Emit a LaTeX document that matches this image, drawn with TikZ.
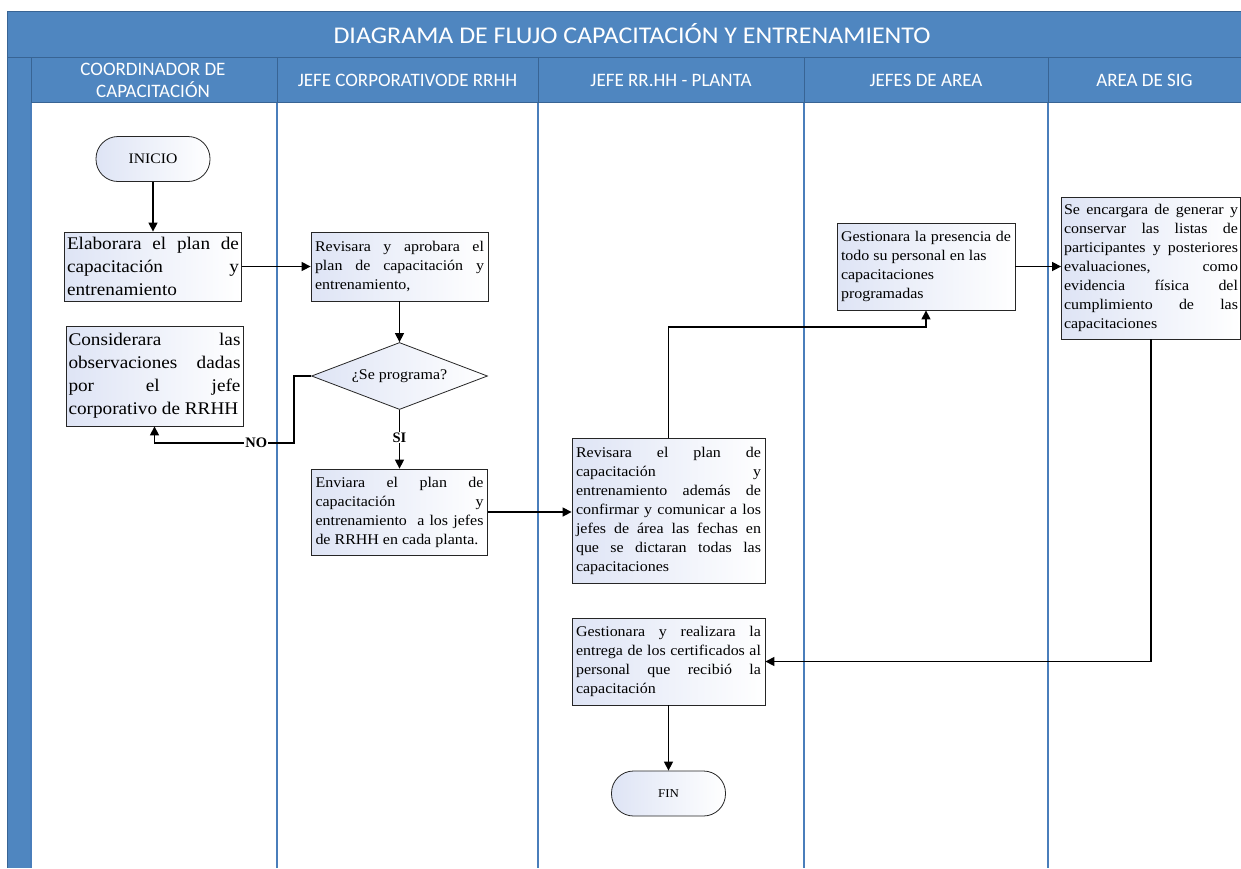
\documentclass[tikz,border=0pt]{standalone}
\usepackage{fontspec}
\setmainfont{Liberation Serif}
\newfontfamily\boxfont[FakeStretch=1.08]{Liberation Serif}
\newfontfamily\hdrfont{Carlito}
\newfontfamily\titlefont[FakeStretch=1.08]{Carlito}
\usetikzlibrary{shapes.geometric,arrows.meta}
\definecolor{band}{RGB}{79,134,192}
\definecolor{bandline}{RGB}{56,100,148}
\definecolor{laneline}{RGB}{74,126,187}
\definecolor{boxshade}{RGB}{222,228,245}
\begin{document}
\begin{tikzpicture}[x=1pt,y=-1pt,
  shadefill/.style={left color=boxshade, right color=white},
  box/.style={draw=black!85, line width=0.8pt, shadefill,
    align=justify, inner sep=4pt, font=\boxfont\fontsize{14.8}{19}\selectfont,
    execute at begin node={\tolerance=10000\hyphenpenalty=10000\exhyphenpenalty=10000}},
  bigbox/.style={box, inner sep=2.5pt, font=\boxfont\fontsize{17.8}{23}\selectfont},
  term/.style={draw=black!85, line width=0.8pt, rounded corners=22pt, shadefill,
    minimum width=114pt, minimum height=45pt, inner sep=0pt},
  decision/.style={diamond, aspect=2.6, draw=black!85, line width=0.8pt, shadefill,
    minimum width=176pt, minimum height=67pt, inner sep=0pt,
    font=\boxfont\fontsize{14.8}{16}\selectfont},
  arr/.style={draw=black, line width=1.4pt, -{Triangle[length=9pt,width=9pt]}},
  lbl/.style={fill=white, inner sep=1pt, font=\bfseries\fontsize{14.5}{16}\selectfont},
  hdr/.style={text=white, align=center, font=\hdrfont\fontsize{19}{22}\selectfont},
  lane/.style={draw=laneline, line width=1.3pt},
  hline/.style={draw=bandline, line width=1pt}
]
\useasboundingbox (0,0) rectangle (1241,868);
\fill[white] (0,0) rectangle (1241,868);
% frame
\fill[band] (7,11) rectangle (1241,102);
\fill[band] (7,57) rectangle (31,868);
\draw[hline] (7,11) -- (1241,11);
\draw[hline] (7,11) -- (7,868);
\draw[hline] (7,57) -- (1241,57);
\draw[hline] (31,102) -- (1241,102);
\foreach \x in {31,277,538,804,1048} {
  \draw[hline] (\x,57) -- (\x,102);
  \draw[lane] (\x,103) -- (\x,868);
}
\node[text=white, font=\titlefont\fontsize{24}{26}\selectfont] (title) at (632,34) {DIAGRAMA DE FLUJO CAPACITACIÓN Y ENTRENAMIENTO};
\node[hdr] (h1) at (153,80) {COORDINADOR DE\\CAPACITACIÓN};
\node[hdr] (h2) at (407.5,80) {JEFE CORPORATIVODE RRHH};
\node[hdr] (h3) at (671,80) {JEFE RR.HH - PLANTA};
\node[hdr] (h4) at (926,80) {JEFES DE AREA};
\node[hdr] (h5) at (1144.5,80) {AREA DE SIG};

% nodes
\node[term, font=\boxfont\fontsize{14.5}{16}\selectfont] (inicio) at (153,159) {INICIO};
\node[bigbox, text width=172pt, minimum height=69pt] (elab) at (153,266.5)
  {Elaborara el plan de\linebreak capacitación y\linebreak entrenamiento};
\node[box, text width=169pt, minimum height=69pt] (rev1) at (399.5,266.5)
  {Revisara y aprobara el\linebreak plan de capacitación y\linebreak entrenamiento,};
\node[decision] (dec) at (399.5,376) {¿Se programa?};
\node[bigbox, text width=172pt, minimum height=100pt] (cons) at (154.5,376)
  {Considerara las\linebreak observaciones dadas\linebreak por el jefe\linebreak corporativo de RRHH};
\node[box, text width=168pt, minimum height=86pt] (env) at (399.5,512)
  {Enviara el plan de\linebreak capacitación y\linebreak entrenamiento~ a los jefes\linebreak de RRHH en cada planta.};
\node[box, text width=185pt, minimum height=145pt] (rev2) at (668.5,511)
  {Revisara el plan de\linebreak capacitación y\linebreak entrenamiento además de\linebreak confirmar y comunicar a los\linebreak jefes de área las fechas en\linebreak que se dictaran todas las\linebreak capacitaciones};
\node[box, text width=170pt, minimum height=87pt] (gest1) at (926,266.5)
  {Gestionara la presencia de\linebreak todo su personal en las\\ capacitaciones\\ programadas};
\node[box, inner sep=2.5pt, text width=174pt, minimum height=142pt] (sig) at (1151,268)
  {Se encargara de generar y\linebreak conservar las listas de\linebreak participantes y posteriores\linebreak evaluaciones, como\linebreak evidencia física del\linebreak cumplimiento de las\linebreak capacitaciones};
\node[box, text width=185pt, minimum height=87pt] (gest2) at (668.5,661.5)
  {Gestionara y realizara la\linebreak entrega de los certificados al\linebreak personal que recibió la\linebreak capacitación};
\node[term, font=\boxfont\fontsize{12}{14}\selectfont] (fin) at (668.5,793.5) {FIN};

% connectors
\coordinate (nob) at (294,443);
\coordinate (turn1) at (668.5,327);
\draw[arr] (inicio) -- (elab);
\draw[arr] (elab.east) -- (elab.east -| rev1.west);
\draw[arr] (rev1) -- (dec);
\draw[arr] (dec.west) -| (nob) -- node[lbl, pos=0.27] {NO} (nob -| cons.south) -- (cons.south);
\draw[arr] (dec.south) -- node[lbl, pos=0.47] {SI} (env.north);
\draw[arr] (env.east) -- (env.east -| rev2.west);
\draw[arr] (rev2.north) -- (turn1) -| (gest1.south);
\draw[arr] (gest1.east) -- (gest1.east -| sig.west);
\draw[arr] (sig.south) |- (gest2.east);
\draw[arr] (gest2) -- (fin);
\end{tikzpicture}
\end{document}
